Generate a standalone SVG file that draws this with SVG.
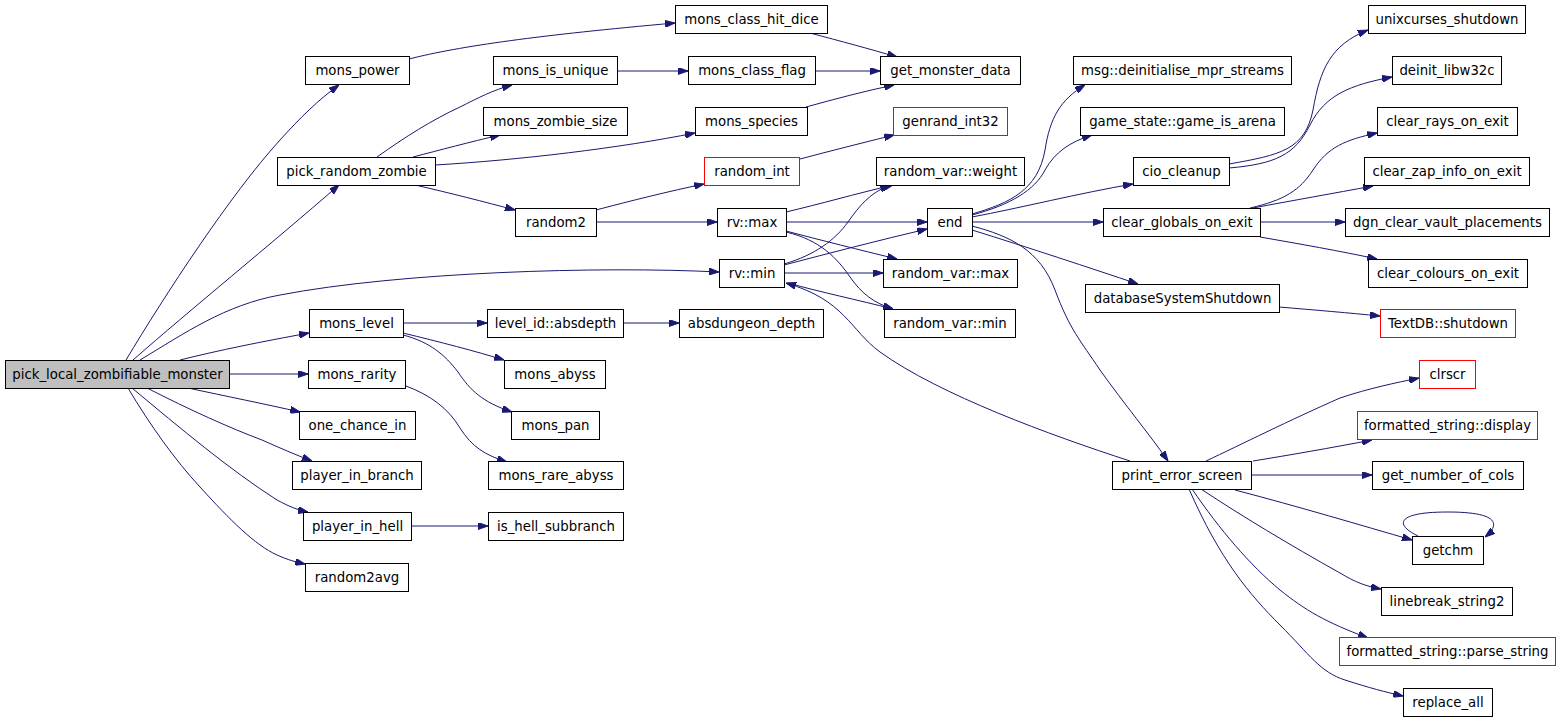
<svg xmlns="http://www.w3.org/2000/svg" width="1560" height="720" viewBox="0 0 1560 720">
<style>
.n rect{fill:#ffffff;stroke:#000000;stroke-width:1}
.n.r rect{stroke:#ff0000}
.n.g rect{fill:#bfbfbf}
.n text{font-family:"DejaVu Sans","Liberation Sans",sans-serif;font-size:13.3px;fill:#000000;text-anchor:middle}
#edges path{fill:none;stroke:#191970;stroke-width:1;marker-end:url(#a)}
</style>
<defs>
<marker id="a" viewBox="0 0 10 7" refX="10" refY="3.5" markerWidth="10" markerHeight="7" orient="auto" markerUnits="userSpaceOnUse"><path d="M0,0 L10,3.5 L0,7 z" fill="#191970" stroke="#191970"/></marker>
</defs>
<rect x="0" y="0" width="1560" height="720" fill="#ffffff"/>
<g id="edges">
<path d="M126,360 C165,295 230,195 280,140 C300,118 318,100 339,85"/>
<path d="M133,360 C190,310 270,245 339,185"/>
<path d="M140,360 C185,333 225,305 280,295 C400,272 600,266 719,272"/>
<path d="M180,360 C220,350 260,342 309,333"/>
<path d="M229,374 L308,374"/>
<path d="M188,388 C225,396 265,404 300,412"/>
<path d="M147,388 C190,410 230,428 262,440 C280,448 296,455 312,461"/>
<path d="M132,388 C180,428 230,470 277,500 C290,507 298,510 308,512"/>
<path d="M128,388 C150,425 175,460 200,487 C230,520 255,545 277,555 C288,560 296,562 305,564"/>
<path d="M409,59 C460,46 540,35 675,23"/>
<path d="M377,157 C405,137 432,120 460,107 C478,98 493,90 512,85"/>
<path d="M413,157 C440,150 470,142 500,135"/>
<path d="M435,165 C520,160 620,148 695,133"/>
<path d="M415,185 C450,193 485,202 515,210"/>
<path d="M617,71 L688,71"/>
<path d="M815,71 L880,71"/>
<path d="M810,33 C840,41 870,49 897,57"/>
<path d="M806,107 C835,99 865,91 894,85"/>
<path d="M596,210 C630,201 670,191 704,184"/>
<path d="M596,222 L717,222"/>
<path d="M800,159 C830,151 862,143 894,135"/>
<path d="M786,212 C820,204 855,194 893,185"/>
<path d="M786,222 L927,222"/>
<path d="M786,231 C820,240 860,250 897,259"/>
<path d="M786,232 C820,240 837,258 850,277 C862,294 874,303 893,309"/>
<path d="M784,264 C815,255 835,240 848,222 C860,205 870,193 890,185"/>
<path d="M784,265 C830,253 880,240 927,229"/>
<path d="M784,273 L883,273"/>
<path d="M788,283 C820,292 858,300 893,309"/>
<path d="M1130,461 C1050,435 940,395 880,352 C850,330 845,300 786,283"/>
<path d="M972,214 C1010,203 1038,190 1045,150 C1050,118 1060,100 1085,85"/>
<path d="M972,215 C1010,205 1035,190 1045,170 C1055,152 1070,142 1092,135"/>
<path d="M972,217 C1020,208 1080,193 1133,184"/>
<path d="M972,222 L1103,222"/>
<path d="M972,230 C1030,248 1090,268 1138,284"/>
<path d="M972,226 C1010,236 1040,250 1055,290 C1070,330 1080,340 1100,370 C1125,405 1150,435 1168,461"/>
<path d="M1229,164 C1280,155 1305,150 1313,110 C1320,70 1330,45 1368,30"/>
<path d="M1229,168 C1275,164 1295,155 1310,125 C1325,95 1350,85 1392,77"/>
<path d="M1250,208 C1285,200 1300,190 1313,170 C1328,147 1345,140 1377,133"/>
<path d="M1253,208 C1290,201 1335,193 1373,186"/>
<path d="M1260,222 L1345,222"/>
<path d="M1260,237 C1300,244 1340,251 1377,259"/>
<path d="M1279,307 C1315,310 1350,313 1380,316"/>
<path d="M1206,461 C1240,445 1290,420 1340,398 C1370,388 1395,383 1419,378"/>
<path d="M1253,461 C1290,455 1330,448 1372,440"/>
<path d="M1251,475 L1372,475"/>
<path d="M1235,490 C1300,507 1360,525 1412,540"/>
<path d="M1418,536 C1395,525 1395,512 1448,512 C1500,512 1500,525 1485,537"/>
<path d="M1201,489 C1240,515 1290,545 1340,573 C1355,582 1365,586 1381,589"/>
<path d="M1192,489 C1220,530 1250,565 1280,590 C1305,610 1325,622 1368,638"/>
<path d="M1189,489 C1220,560 1250,595 1280,625 C1310,655 1320,672 1345,680 C1370,688 1385,692 1403,696"/>
<path d="M403,323 L487,323"/>
<path d="M403,333 C440,342 475,351 504,360"/>
<path d="M403,335 C430,342 445,355 458,372 C470,390 482,402 512,412"/>
<path d="M623,323 L679,323"/>
<path d="M406,386 C430,395 448,408 460,428 C472,447 485,455 507,462"/>
<path d="M411,526 L488,526"/>
</g>
<g id="pick_local_zombifiable_monster" class="n g"><rect x="5.5" y="360.5" width="224" height="28"/><text x="117.5" y="379">pick_local_zombifiable_monster</text></g>
<g id="mons_power" class="n"><rect x="305.5" y="56.5" width="104" height="28"/><text x="357.5" y="75">mons_power</text></g>
<g id="pick_random_zombie" class="n"><rect x="277.5" y="157.5" width="158" height="28"/><text x="356.5" y="176">pick_random_zombie</text></g>
<g id="mons_level" class="n"><rect x="309.5" y="309.5" width="94" height="28"/><text x="356.5" y="328">mons_level</text></g>
<g id="mons_rarity" class="n"><rect x="308.5" y="360.5" width="97" height="28"/><text x="357" y="379">mons_rarity</text></g>
<g id="one_chance_in" class="n"><rect x="299.5" y="411.5" width="116" height="28"/><text x="357.5" y="430">one_chance_in</text></g>
<g id="player_in_branch" class="n"><rect x="292.5" y="461.5" width="129" height="28"/><text x="357" y="480">player_in_branch</text></g>
<g id="player_in_hell" class="n"><rect x="303.5" y="512.5" width="108" height="28"/><text x="357.5" y="531">player_in_hell</text></g>
<g id="random2avg" class="n"><rect x="305.5" y="563.5" width="103" height="28"/><text x="357" y="582">random2avg</text></g>
<g id="mons_class_hit_dice" class="n"><rect x="675.5" y="5.5" width="152" height="28"/><text x="751.5" y="24">mons_class_hit_dice</text></g>
<g id="mons_is_unique" class="n"><rect x="493.5" y="56.5" width="124" height="28"/><text x="555.5" y="75">mons_is_unique</text></g>
<g id="mons_class_flag" class="n"><rect x="688.5" y="56.5" width="127" height="28"/><text x="752" y="75">mons_class_flag</text></g>
<g id="get_monster_data" class="n"><rect x="880.5" y="56.5" width="140" height="28"/><text x="950.5" y="75">get_monster_data</text></g>
<g id="mons_zombie_size" class="n"><rect x="483.5" y="107.5" width="144" height="28"/><text x="555.5" y="126">mons_zombie_size</text></g>
<g id="mons_species" class="n"><rect x="695.5" y="107.5" width="112" height="28"/><text x="751.5" y="126">mons_species</text></g>
<g id="genrand_int32" class="n r"><rect x="893.5" y="107.5" width="114" height="28"/><text x="950.5" y="126">genrand_int32</text></g>
<g id="random_int" class="n r"><rect x="704.5" y="157.5" width="95" height="28"/><text x="752" y="176">random_int</text></g>
<g id="random_var_weight" class="n"><rect x="876.5" y="157.5" width="148" height="28"/><text x="950.5" y="176">random_var::weight</text></g>
<g id="random2" class="n"><rect x="515.5" y="208.5" width="81" height="28"/><text x="556" y="227">random2</text></g>
<g id="rv_max" class="n"><rect x="717.5" y="208.5" width="69" height="28"/><text x="752" y="227">rv::max</text></g>
<g id="end" class="n"><rect x="927.5" y="208.5" width="45" height="28"/><text x="950" y="227">end</text></g>
<g id="rv_min" class="n"><rect x="719.5" y="259.5" width="65" height="28"/><text x="752" y="278">rv::min</text></g>
<g id="random_var_max" class="n"><rect x="883.5" y="259.5" width="134" height="28"/><text x="950.5" y="278">random_var::max</text></g>
<g id="level_id_absdepth" class="n"><rect x="487.5" y="309.5" width="136" height="28"/><text x="555.5" y="328">level_id::absdepth</text></g>
<g id="absdungeon_depth" class="n"><rect x="679.5" y="309.5" width="144" height="28"/><text x="751.5" y="328">absdungeon_depth</text></g>
<g id="random_var_min" class="n"><rect x="884.5" y="309.5" width="131" height="28"/><text x="950" y="328">random_var::min</text></g>
<g id="mons_abyss" class="n"><rect x="504.5" y="360.5" width="101" height="28"/><text x="555" y="379">mons_abyss</text></g>
<g id="mons_pan" class="n"><rect x="511.5" y="411.5" width="88" height="28"/><text x="555.5" y="430">mons_pan</text></g>
<g id="mons_rare_abyss" class="n"><rect x="488.5" y="461.5" width="135" height="28"/><text x="556" y="480">mons_rare_abyss</text></g>
<g id="is_hell_subbranch" class="n"><rect x="488.5" y="512.5" width="135" height="28"/><text x="556" y="531">is_hell_subbranch</text></g>
<g id="unixcurses_shutdown" class="n"><rect x="1368.5" y="5.5" width="157" height="28"/><text x="1447" y="24">unixcurses_shutdown</text></g>
<g id="msg_deinitialise_mpr_streams" class="n"><rect x="1073.5" y="56.5" width="218" height="28"/><text x="1182.5" y="75">msg::deinitialise_mpr_streams</text></g>
<g id="deinit_libw32c" class="n"><rect x="1392.5" y="56.5" width="109" height="28"/><text x="1447" y="75">deinit_libw32c</text></g>
<g id="game_state_game_is_arena" class="n"><rect x="1080.5" y="107.5" width="204" height="28"/><text x="1182.5" y="126">game_state::game_is_arena</text></g>
<g id="clear_rays_on_exit" class="n"><rect x="1377.5" y="107.5" width="140" height="28"/><text x="1447.5" y="126">clear_rays_on_exit</text></g>
<g id="cio_cleanup" class="n"><rect x="1133.5" y="157.5" width="96" height="28"/><text x="1181.5" y="176">cio_cleanup</text></g>
<g id="clear_zap_info_on_exit" class="n"><rect x="1364.5" y="157.5" width="165" height="28"/><text x="1447" y="176">clear_zap_info_on_exit</text></g>
<g id="clear_globals_on_exit" class="n"><rect x="1103.5" y="208.5" width="157" height="28"/><text x="1182" y="227">clear_globals_on_exit</text></g>
<g id="dgn_clear_vault_placements" class="n"><rect x="1345.5" y="208.5" width="204" height="28"/><text x="1447.5" y="227">dgn_clear_vault_placements</text></g>
<g id="clear_colours_on_exit" class="n"><rect x="1368.5" y="259.5" width="159" height="28"/><text x="1448" y="278">clear_colours_on_exit</text></g>
<g id="databaseSystemShutdown" class="n"><rect x="1085.5" y="284.5" width="194" height="28"/><text x="1182.5" y="303">databaseSystemShutdown</text></g>
<g id="TextDB_shutdown" class="n r"><rect x="1380.5" y="309.5" width="135" height="28"/><text x="1448" y="328">TextDB::shutdown</text></g>
<g id="clrscr" class="n r"><rect x="1419.5" y="360.5" width="56" height="28"/><text x="1447.5" y="379">clrscr</text></g>
<g id="formatted_string_display" class="n r"><rect x="1357.5" y="411.5" width="180" height="28"/><text x="1447.5" y="430">formatted_string::display</text></g>
<g id="print_error_screen" class="n"><rect x="1112.5" y="461.5" width="139" height="28"/><text x="1182" y="480">print_error_screen</text></g>
<g id="get_number_of_cols" class="n"><rect x="1372.5" y="461.5" width="151" height="28"/><text x="1448" y="480">get_number_of_cols</text></g>
<g id="getchm" class="n"><rect x="1412.5" y="536.5" width="71" height="28"/><text x="1448" y="555">getchm</text></g>
<g id="linebreak_string2" class="n"><rect x="1381.5" y="587.5" width="131" height="28"/><text x="1447" y="606">linebreak_string2</text></g>
<g id="formatted_string_parse_string" class="n r"><rect x="1339.5" y="637.5" width="216" height="28"/><text x="1447.5" y="656">formatted_string::parse_string</text></g>
<g id="replace_all" class="n"><rect x="1403.5" y="688.5" width="89" height="28"/><text x="1448" y="707">replace_all</text></g>
</svg>
